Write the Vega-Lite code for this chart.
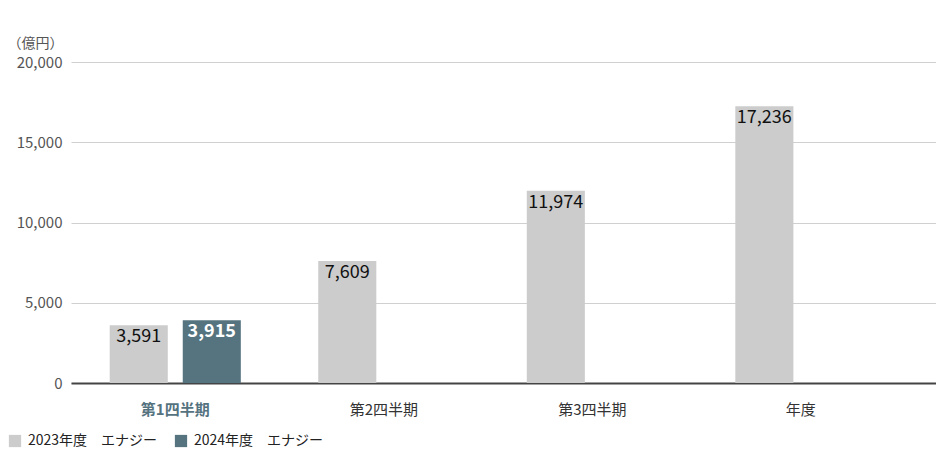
{
  "$schema": "https://vega.github.io/schema/vega-lite/v6.json",
  "autosize": {"type": "none"},
  "padding": {"left": 71, "top": 62, "right": 0, "bottom": 73},
  "width": 865,
  "height": 321,
  "config": {
    "view": {"stroke": null},
    "font": "Noto Sans CJK JP",
    "axis": {"labelFont": "Noto Sans CJK JP", "titleFont": "Noto Sans CJK JP"},
    "legend": {"labelFont": "Noto Sans CJK JP"}
  },
  "data": {
    "values": [
      {"period": "第1四半期", "series": "2023年度　エナジー", "value": 3591},
      {"period": "第1四半期", "series": "2024年度　エナジー", "value": 3915},
      {"period": "第2四半期", "series": "2023年度　エナジー", "value": 7609},
      {"period": "第3四半期", "series": "2023年度　エナジー", "value": 11974},
      {"period": "年度", "series": "2023年度　エナジー", "value": 17236}
    ]
  },
  "encoding": {
    "x": {
      "field": "period",
      "type": "nominal",
      "sort": ["第1四半期", "第2四半期", "第3四半期", "年度"],
      "scale": {"paddingInner": 0, "paddingOuter": 0.074, "align": 0},
      "axis": {
        "title": null,
        "labelAngle": 0,
        "ticks": false,
        "labelPadding": 19,
        "labelFontSize": 15,
        "labelColor": {"condition": {"test": "datum.value == '第1四半期'", "value": "#55737f"}, "value": "#333333"},
        "labelFontWeight": {"condition": {"test": "datum.value == '第1四半期'", "value": "bold"}, "value": "normal"},
        "domainColor": "#444444",
        "domainWidth": 2
      }
    },
    "xOffset": {
      "field": "series",
      "type": "nominal",
      "scale": {"paddingInner": 0.205, "paddingOuter": 0.53}
    },
    "y": {
      "field": "value",
      "type": "quantitative",
      "scale": {"domain": [0, 20000]},
      "axis": {
        "title": "（億円）",
        "titleAngle": 0,
        "titleAlign": "right",
        "titleBaseline": "middle",
        "titleX": -8,
        "titleY": -19,
        "titleFontSize": 14,
        "titleFontWeight": "normal",
        "titleColor": "#555555",
        "values": [0, 5000, 10000, 15000, 20000],
        "format": ",d",
        "domain": false,
        "ticks": false,
        "labelPadding": 9,
        "labelFontSize": 15,
        "labelColor": "#555555",
        "gridColor": "#d0d0d0",
        "gridWidth": 1
      }
    }
  },
  "layer": [
    {
      "mark": {"type": "bar"},
      "encoding": {
        "color": {
          "field": "series",
          "type": "nominal",
          "scale": {"domain": ["2023年度　エナジー", "2024年度　エナジー"], "range": ["#cccccc", "#56747f"]},
          "legend": {
            "title": null,
            "orient": "none",
            "legendX": -63,
            "legendY": 372,
            "direction": "horizontal",
            "symbolType": "square",
            "symbolSize": 150,
            "symbolStrokeWidth": 0,
            "symbolOpacity": 1,
            "labelFontSize": 14,
            "labelColor": "#222222",
            "columnPadding": 16,
            "labelOffset": 6
          }
        }
      }
    },
    {
      "transform": [{"filter": "datum.series == '2023年度　エナジー'"}],
      "mark": {"type": "text", "baseline": "top", "dy": 3, "fontSize": 18, "letterSpacing": -1, "color": "#111111"},
      "encoding": {
        "text": {"field": "value", "type": "quantitative", "format": ","}
      }
    },
    {
      "transform": [{"filter": "datum.series == '2024年度　エナジー'"}],
      "mark": {"type": "text", "baseline": "top", "dy": 3, "fontSize": 18, "letterSpacing": -1, "color": "#ffffff", "fontWeight": "bold"},
      "encoding": {
        "text": {"field": "value", "type": "quantitative", "format": ","}
      }
    }
  ]
}
